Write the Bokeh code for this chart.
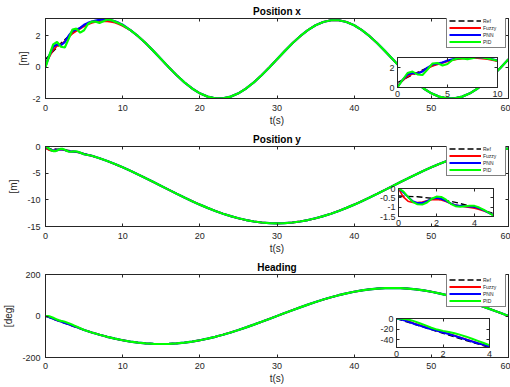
from bokeh.plotting import figure
from bokeh.models import (Range1d, FixedTicker, LinearAxis, Legend, LegendItem,
                          GridBox, Column, CustomJSTickFormatter)
from bokeh.embed import file_html
from bokeh.resources import INLINE

FONT = "Liberation Sans"
INK = "#262626"

# ---------------- data ----------------
# time base of the reference trajectories (s)
t = [0, 1, 2, 3, 4, 5, 6, 7, 8, 9, 10, 11, 12, 13, 14, 15, 16, 17, 18, 19, 20,
     21, 22, 23, 24, 25, 26, 27, 28, 29, 30, 31, 32, 33, 34, 35, 36, 37, 38, 39, 40,
     41, 42, 43, 44, 45, 46, 47, 48, 49, 50, 51, 52, 53, 54, 55, 56, 57, 58, 59, 60]

x_ref = [0.50, 1.02, 1.52, 1.97, 2.36, 2.67, 2.88, 2.99, 2.99, 2.88, 2.67, 2.36, 1.97,
         1.52, 1.02, 0.50, -0.02, -0.52, -0.97, -1.36, -1.67, -1.88, -1.99, -1.99,
         -1.88, -1.67, -1.36, -0.97, -0.52, -0.02, 0.50, 1.02, 1.52, 1.97, 2.36, 2.67,
         2.88, 2.99, 2.99, 2.88, 2.67, 2.36, 1.97, 1.52, 1.02, 0.50, -0.02, -0.52,
         -0.97, -1.36, -1.67, -1.88, -1.99, -1.99, -1.88, -1.67, -1.36, -0.97, -0.52,
         -0.02, 0.50]

y_ref = [-0.40, -0.44, -0.55, -0.74, -1.01, -1.34, -1.74, -2.20, -2.72, -3.29, -3.90,
         -4.55, -5.24, -5.94, -6.67, -7.40, -8.13, -8.86, -9.56, -10.25, -10.90,
         -11.51, -12.08, -12.60, -13.06, -13.46, -13.79, -14.06, -14.25, -14.36,
         -14.40, -14.36, -14.25, -14.06, -13.79, -13.46, -13.06, -12.60, -12.08,
         -11.51, -10.90, -10.25, -9.56, -8.86, -8.13, -7.40, -6.67, -5.94, -5.24,
         -4.55, -3.90, -3.29, -2.72, -2.20, -1.74, -1.34, -1.01, -0.74, -0.55, -0.44,
         -0.40]

h_ref = [0, -14.1, -28.1, -41.7, -54.9, -67.5, -79.4, -90.3, -100.3, -109.2, -116.9,
         -123.3, -128.4, -132.0, -134.3, -135.0, -134.3, -132.0, -128.4, -123.3,
         -116.9, -109.2, -100.3, -90.3, -79.4, -67.5, -54.9, -41.7, -28.1, -14.1, 0,
         14.1, 28.1, 41.7, 54.9, 67.5, 79.4, 90.3, 100.3, 109.2, 116.9, 123.3, 128.4,
         132.0, 134.3, 135.0, 134.3, 132.0, 128.4, 123.3, 116.9, 109.2, 100.3, 90.3,
         79.4, 67.5, 54.9, 41.7, 28.1, 14.1, 0]

# start-up transients of the three controllers
t_x_tr = [0.0, 0.5, 1.0, 1.5, 2.0, 2.5, 3.0, 3.5, 4.0, 4.5, 5.0, 5.5, 6.0, 6.5, 7.0,
          7.5, 8.0, 8.5, 9.0, 9.5, 10.0]
x_fuzzy_tr = [0.20, 0.65, 1.10, 1.35, 1.45, 1.65, 1.90, 2.15, 2.30, 2.45, 2.60, 2.72,
              2.82, 2.88, 2.92, 2.93, 2.92, 2.89, 2.83, 2.74, 2.63]
x_pnn_tr = [0.05, 0.75, 1.30, 1.45, 1.40, 1.60, 2.00, 2.30, 2.40, 2.50, 2.70, 2.82,
            2.90, 2.97, 3.02, 3.04, 3.03, 2.99, 2.92, 2.82, 2.70]
x_pid_tr = [0.00, 0.75, 1.45, 1.60, 1.30, 1.25, 1.80, 2.40, 2.45, 2.20, 2.35, 2.75,
            2.90, 2.90, 2.82, 2.92, 3.04, 3.00, 2.90, 2.80, 2.68]

t_y_tr = [0.0, 0.25, 0.5, 0.75, 1.0, 1.25, 1.5, 1.75, 2.0, 2.25, 2.5, 2.75, 3.0, 3.25,
          3.5, 3.75, 4.0, 4.25, 4.5, 4.75, 5.0]
y_fuzzy_tr = [0.00, -0.45, -0.68, -0.75, -0.75, -0.72, -0.66, -0.60, -0.58, -0.62,
              -0.70, -0.80, -0.88, -0.94, -0.98, -1.02, -1.06, -1.12, -1.20, -1.30, -1.42]
y_pnn_tr = [0.00, -0.20, -0.45, -0.68, -0.78, -0.78, -0.68, -0.55, -0.50, -0.55,
            -0.66, -0.80, -0.90, -0.93, -0.95, -0.96, -0.98, -1.06, -1.17, -1.30, -1.43]
y_pid_tr = [0.00, -0.15, -0.45, -0.72, -0.85, -0.86, -0.75, -0.55, -0.43, -0.45,
            -0.60, -0.82, -0.95, -0.98, -0.95, -0.92, -0.93, -1.02, -1.15, -1.30, -1.45]

t_h_tr = [0.0, 0.25, 0.5, 0.75, 1.0, 1.25, 1.5, 1.75, 2.0, 2.25, 2.5, 2.75, 3.0, 3.25,
          3.5, 3.75, 4.0]
h_fuzzy_tr = [0, -2, -5, -9, -12.5, -16, -19.5, -23, -26, -29, -32.5, -36, -39.5, -43,
              -46.5, -50, -53]
h_pnn_tr = [0, -2.5, -6, -10, -13.5, -17, -20.5, -23.5, -26.5, -29.5, -33, -36.5, -40,
            -43.5, -47, -50, -53]
h_pid_tr = [0, -0.5, -2, -5, -9, -13, -17.5, -21, -23.5, -25.5, -28, -31, -34.5,
            -38.5, -42.5, -46.5, -50.5]

x_ticks = [0, 10, 20, 30, 40, 50, 60]

NAMES = ["Ref", "Fuzzy", "PNN", "PID"]
STYLES = {
    "Ref": dict(line_color="black", line_dash="6 3", line_width=1.5),
    "Fuzzy": dict(line_color="#ff0000", line_width=1.8),
    "PNN": dict(line_color="#0000ff", line_width=2.2),
    "PID": dict(line_color="#00ff00", line_width=2.2),
}


def series_for(ref_v, tr_t, tr_v):
    """Controller response: start-up transient, then it rides on the reference."""
    t_end = tr_t[-1]
    tail_t = [tt for tt in t if tt > t_end]
    tail_v = ref_v[len(t) - len(tail_t):]
    return {"t": tr_t + tail_t, "v": tr_v + tail_v}


def plain_formatter():
    return CustomJSTickFormatter(code="return String(tick)")


def style_axis(ax, ticks, labels=True):
    ax.ticker = FixedTicker(ticks=ticks)
    ax.major_tick_in = 3
    ax.major_tick_out = 0
    ax.minor_tick_line_color = None
    ax.axis_line_color = INK
    ax.major_tick_line_color = INK
    ax.major_label_text_font = FONT
    ax.major_label_text_color = INK
    if labels:
        ax.formatter = plain_formatter()
        ax.major_label_text_font_size = "9px"
    else:
        ax.formatter = CustomJSTickFormatter(code="return ''")
        ax.major_label_text_font_size = "1px"
        ax.major_label_standoff = 0


def box_ticks(p, xt, yt):
    top = LinearAxis()
    style_axis(top, xt, labels=False)
    p.add_layout(top, "above")
    right = LinearAxis()
    style_axis(right, yt, labels=False)
    p.add_layout(right, "right")


def make_panel(title, ylabel, yr, yticks, data, bottom, ylab_gap, xtick_gap):
    p = figure(width=510, height=18 + 83 + bottom,
               x_range=Range1d(0, 60), y_range=Range1d(*yr),
               min_border_left=45, min_border_right=2, min_border_top=18,
               min_border_bottom=bottom,
               output_backend="svg", toolbar_location=None,
               background_fill_color="white", border_fill_color="white")
    p.xgrid.visible = False
    p.ygrid.visible = False
    p.outline_line_color = INK
    p.title.text = title
    p.title.align = "center"
    p.title.text_font = FONT
    p.title.text_font_size = "10px"
    p.title.text_font_style = "bold"
    p.title.text_color = "black"
    p.title.standoff = 3

    xa = p.xaxis[0]
    style_axis(xa, x_ticks)
    xa.major_label_standoff = xtick_gap
    xa.axis_label = "t(s)"
    xa.axis_label_text_font = FONT
    xa.axis_label_text_font_size = "10px"
    xa.axis_label_text_font_style = "normal"
    xa.axis_label_text_color = INK
    xa.axis_label_standoff = 1

    ya = p.yaxis[0]
    style_axis(ya, yticks)
    ya.major_label_standoff = 5
    ya.axis_label = ylabel
    ya.axis_label_text_font = FONT
    ya.axis_label_text_font_size = "10px"
    ya.axis_label_text_font_style = "normal"
    ya.axis_label_text_color = INK
    ya.axis_label_standoff = ylab_gap

    box_ticks(p, x_ticks, yticks)

    items = []
    for name in NAMES:
        d = data[name]
        r = p.line(d["t"], d["v"], **STYLES[name])
        items.append(LegendItem(label=name, renderers=[r]))
    leg = Legend(items=items, location=(401, 50), margin=0, padding=2, spacing=0,
                 glyph_width=32, glyph_height=7, label_height=7, label_standoff=2,
                 label_text_font=FONT, label_text_font_size="5px",
                 label_text_color=INK, border_line_color="black",
                 border_line_width=1, background_fill_color="white",
                 background_fill_alpha=1)
    p.add_layout(leg)
    return p


def make_inset(xr, yr, xt, yt, data, fw, fh, left_border, mtop, mleft):
    p = figure(width=left_border + fw + 8, height=3 + fh + 14,
               x_range=Range1d(*xr), y_range=Range1d(*yr), title=None,
               min_border_left=left_border, min_border_right=8, min_border_top=3,
               min_border_bottom=14,
               output_backend="svg", toolbar_location=None,
               background_fill_color="white", border_fill_alpha=0,
               margin=(mtop, 0, 0, mleft))
    p.xgrid.visible = False
    p.ygrid.visible = False
    p.outline_line_color = INK
    xa = p.xaxis[0]
    style_axis(xa, xt)
    xa.major_label_standoff = 3
    ya = p.yaxis[0]
    style_axis(ya, yt)
    ya.major_label_standoff = 3
    box_ticks(p, xt, yt)
    for name in NAMES:
        d = data[name]
        st = dict(STYLES[name])
        st["line_width"] = st["line_width"] * 0.9
        p.line(d["t"], d["v"], **st)
    # own container, so the grid does not line its borders up with the main panel
    return Column(children=[p])


x_data = {"Ref": {"t": t, "v": x_ref},
          "Fuzzy": series_for(x_ref, t_x_tr, x_fuzzy_tr),
          "PNN": series_for(x_ref, t_x_tr, x_pnn_tr),
          "PID": series_for(x_ref, t_x_tr, x_pid_tr)}
y_data = {"Ref": {"t": t, "v": y_ref},
          "Fuzzy": series_for(y_ref, t_y_tr, y_fuzzy_tr),
          "PNN": series_for(y_ref, t_y_tr, y_pnn_tr),
          "PID": series_for(y_ref, t_y_tr, y_pid_tr)}
h_data = {"Ref": {"t": t, "v": h_ref},
          "Fuzzy": series_for(h_ref, t_h_tr, h_fuzzy_tr),
          "PNN": series_for(h_ref, t_h_tr, h_pnn_tr),
          "PID": series_for(h_ref, t_h_tr, h_pid_tr)}

p1 = make_panel("Position x", "[m]", (-2, 3.1), [-2, 0, 2], x_data, 27, 0, 6)
p2 = make_panel("Position y", "[m]", (-15, 0), [-15, -10, -5, 0], y_data, 27, 5, 6)
p3 = make_panel("Heading", "[deg]", (-200, 200), [-200, 0, 200], h_data, 30, 5, 5)

i1 = make_inset((0, 10), (0, 3), [0, 5, 10], [0, 2], x_data, 100, 30, 22, 54, 375)
i2 = make_inset((0, 5), (-1.5, 0), [0, 2, 4], [-1.5, -1, -0.5, 0], y_data, 95, 28, 24, 57, 374)
i3 = make_inset((0, 4), (-55, 0), [0, 2, 4], [-40, -20, 0], h_data, 93, 29, 24, 59, 372)

layout = GridBox(children=[(Column(children=[p1]), 0, 0), (i1, 0, 0),
                           (Column(children=[p2]), 1, 0), (i2, 1, 0),
                           (Column(children=[p3]), 2, 0), (i3, 2, 0)])

open("out.html", "w").write(file_html(layout, INLINE))
